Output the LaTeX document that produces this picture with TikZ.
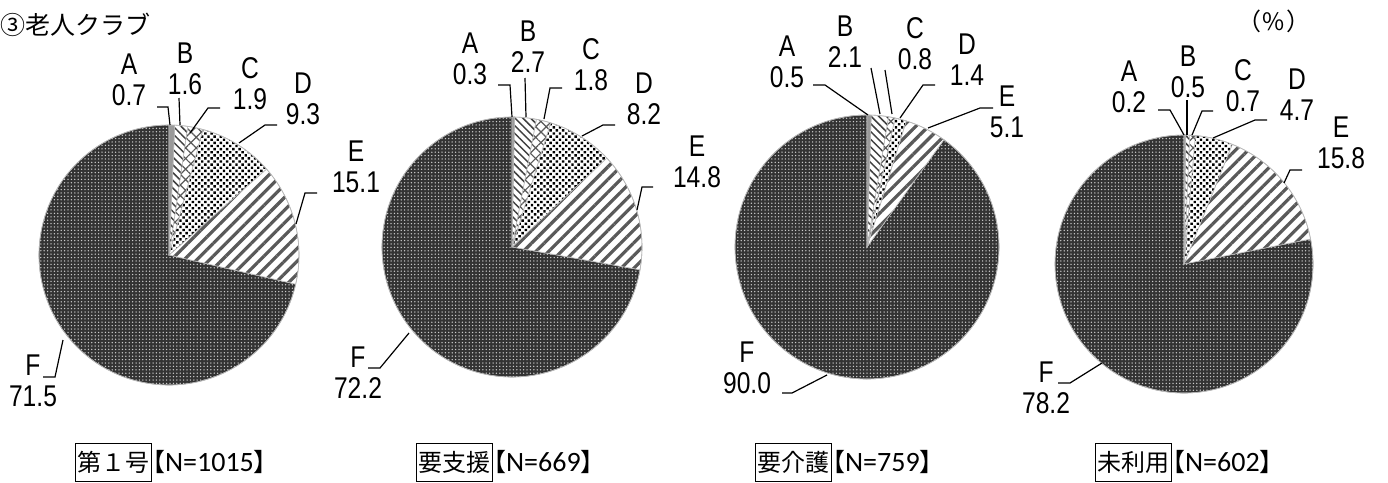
\documentclass[tikz,border=0pt]{standalone}
\usepackage{fontspec}
\usetikzlibrary{patterns.meta}
\newfontfamily\lbl{Liberation Sans}[FakeStretch=0.82]
\newfontfamily\cjk{Noto Sans CJK JP}
\newfontfamily\nfont{Carlito}
\newcommand{\pslice}[6]{%
  \pgfmathsetmacro\pAng{3.6*#4-90}\pgfmathsetmacro\pBng{3.6*#5-90}%
  \filldraw[slice,#6] (#1,#2) -- ++(\pAng:#3) arc[start angle=\pAng, end angle=\pBng, radius=#3] -- cycle;}
\newcommand{\fullpie}[9]{% cx cy r cumA cumB cumC cumD cumE
  \pslice{#1}{#2}{#3}{#8}{100}{sF}%
  \pslice{#1}{#2}{#3}{#7}{#8}{sE}%
  \pslice{#1}{#2}{#3}{#6}{#7}{sD}%
  \pslice{#1}{#2}{#3}{#5}{#6}{sC}%
  \pslice{#1}{#2}{#3}{#4}{#5}{sB}%
  \pslice{#1}{#2}{#3}{0}{#4}{sA}%
  \draw[slice,fill=none] (#1,#2) circle[radius=#3];}
\tikzset{
  slice/.style={draw=black!28, line width=0.6pt},
  sA/.style={fill=black!40},
  sB/.style={preaction={fill=white}, pattern={Lines[angle=-45,distance=5.5pt,line width=1.5pt]}, pattern color=black!75},
  sC/.style={preaction={fill=white}, pattern={Hatch[angle=45,distance=7.5pt,line width=1.2pt]}, pattern color=black!65},
  sD/.style={preaction={fill=white}, pattern={Dots[angle=45,distance=4.4pt,radius=1.7pt]}, pattern color=black},
  sE/.style={preaction={fill=white}, pattern={Lines[angle=45,distance=9pt,line width=3.2pt]}, pattern color=black!65},
  sF/.style={preaction={fill=black!80}, pattern={Dots[distance=3.4pt,radius=0.75pt]}, pattern color=black!20},
  lab/.style={font=\lbl\fontsize{30}{31}\selectfont, align=center, inner sep=0pt},
  lead/.style={draw=black, line width=1.2pt},
  grp/.style={draw=black, line width=0.9pt, font=\cjk\fontsize{24}{24}\selectfont, inner xsep=2pt, inner ysep=0pt, minimum height=38pt, anchor=west},
  nlab/.style={anchor=west, inner sep=0pt, xshift=-12pt, font=\cjk\fontsize{25}{25}\selectfont}
}
\begin{document}
\begin{tikzpicture}[x=1pt,y=-1pt]
\useasboundingbox (0,0) rectangle (1388,482);
\fill[white] (0,0) rectangle (1388,482);
% pies
\fullpie{169}{255}{130}{0.7}{2.3}{4.2}{13.5}{28.6}{}
\fullpie{512}{247}{130}{0.3}{3.0}{4.8}{13.0}{27.8}{}
\fullpie{867}{247}{132}{0.5}{2.6}{3.4}{4.8}{9.9}{}
\fullpie{1184}{264}{129}{0.2}{0.7}{1.4}{6.1}{21.9}{}
% title
\node[anchor=west, inner sep=0pt, font=\cjk\fontsize{25}{25}\selectfont] (title) at (0,25) {③老人クラブ};
\node[inner sep=0pt, font=\cjk\fontsize{24}{24}\selectfont] (pct) at (1274,21) {（\kern1pt\%\kern1pt）};
% pie 1 labels
\node[lab] (a1) at (129,80) {A\\0.7};
\node[lab] (b1) at (185,69) {B\\1.6};
\node[lab] (c1) at (250,84) {C\\1.9};
\node[lab] (d1) at (303,99) {D\\9.3};
\node[lab] (e1) at (356,167) {E\\15.1};
\node[lab] (f1) at (33,381) {F\\71.5};
\coordinate (a1s) at (157,107); \coordinate (a1m) at (168,107); \coordinate (a1e) at (170,125);
\coordinate (b1s) at (179,98); \coordinate (b1e) at (180,125);
\coordinate (c1s) at (220,108); \coordinate (c1m) at (208,108); \coordinate (c1e) at (190,133);
\coordinate (d1s) at (277,125); \coordinate (d1m) at (265,125); \coordinate (d1e) at (239,143);
\coordinate (e1s) at (317,193); \coordinate (e1m) at (305,193); \coordinate (e1e) at (296,224);
\coordinate (f1s) at (43,377); \coordinate (f1m) at (55,377); \coordinate (f1e) at (63,340);
\draw[lead] (a1s) -- (a1m) -- (a1e);
\draw[lead] (b1s) -- (b1e);
\draw[lead] (c1s) -- (c1m) -- (c1e);
\draw[lead] (d1s) -- (d1m) -- (d1e);
\draw[lead] (e1s) -- (e1m) -- (e1e);
\draw[lead] (f1s) -- (f1m) -- (f1e);
% pie 2 labels
\node[lab] (a2) at (470,59) {A\\0.3};
\node[lab] (b2) at (528,47) {B\\2.7};
\node[lab] (c2) at (591,65) {C\\1.8};
\node[lab] (d2) at (644,99) {D\\8.2};
\node[lab] (e2) at (697,162) {E\\14.8};
\node[lab] (f2) at (358,373) {F\\72.2};
\coordinate (a2s) at (498,85); \coordinate (a2m) at (510,85); \coordinate (a2e) at (512,117);
\coordinate (b2s) at (525,78); \coordinate (b2e) at (526,117);
\coordinate (c2s) at (562,88); \coordinate (c2m) at (550,88); \coordinate (c2e) at (544,119);
\coordinate (d2s) at (615,125); \coordinate (d2m) at (603,125); \coordinate (d2e) at (582,136);
\coordinate (e2s) at (653,187); \coordinate (e2m) at (642,187); \coordinate (e2e) at (637,210);
\coordinate (f2s) at (368,368); \coordinate (f2m) at (380,368); \coordinate (f2e) at (409,333);
\draw[lead] (a2s) -- (a2m) -- (a2e);
\draw[lead] (b2s) -- (b2e);
\draw[lead] (c2s) -- (c2m) -- (c2e);
\draw[lead] (d2s) -- (d2m) -- (d2e);
\draw[lead] (e2s) -- (e2m) -- (e2e);
\draw[lead] (f2s) -- (f2m) -- (f2e);
% pie 3 labels
\node[lab] (a3) at (787,62) {A\\0.5};
\node[lab] (b3) at (845,42) {B\\2.1};
\node[lab] (c3) at (915,44) {C\\0.8};
\node[lab] (d3) at (967,60) {D\\1.4};
\node[lab] (e3) at (1007,112) {E\\5.1};
\node[lab] (f3) at (747,368) {F\\90.0};
\coordinate (a3s) at (813,85); \coordinate (a3m) at (825,85); \coordinate (a3e) at (868,115);
\coordinate (b3s) at (871,68); \coordinate (b3e) at (880,114);
\coordinate (c3s) at (885,70); \coordinate (c3e) at (892,114);
\coordinate (d3s) at (935,85); \coordinate (d3m) at (923,85); \coordinate (d3e) at (900,118);
\coordinate (e3s) at (993,108); \coordinate (e3m) at (980,108); \coordinate (e3e) at (928,128);
\coordinate (f3s) at (782,393); \coordinate (f3m) at (792,393); \coordinate (f3e) at (827,375);
\draw[lead] (a3s) -- (a3m) -- (a3e);
\draw[lead] (b3s) -- (b3e);
\draw[lead] (c3s) -- (c3e);
\draw[lead] (d3s) -- (d3m) -- (d3e);
\draw[lead] (e3s) -- (e3m) -- (e3e);
\draw[lead] (f3s) -- (f3m) -- (f3e);
% pie 4 labels
\node[lab] (a4) at (1129,87) {A\\0.2};
\node[lab] (b4) at (1188,72) {B\\0.5};
\node[lab] (c4) at (1243,86) {C\\0.7};
\node[lab] (d4) at (1297,95) {D\\4.7};
\node[lab] (e4) at (1341,143) {E\\15.8};
\node[lab] (f4) at (1046,388) {F\\78.2};
\coordinate (a4s) at (1158,110); \coordinate (a4m) at (1170,110); \coordinate (a4e) at (1184,135);
\coordinate (b4s) at (1187,100); \coordinate (b4e) at (1187,135);
\coordinate (c4s) at (1213,111); \coordinate (c4m) at (1202,111); \coordinate (c4e) at (1192,135);
\coordinate (d4s) at (1267,120); \coordinate (d4m) at (1255,120); \coordinate (d4e) at (1213,138);
\coordinate (e4s) at (1302,170); \coordinate (e4m) at (1290,170); \coordinate (e4e) at (1284,183);
\coordinate (f4s) at (1058,383); \coordinate (f4m) at (1070,383); \coordinate (f4e) at (1102,363);
\draw[lead] (a4s) -- (a4m) -- (a4e);
\draw[lead] (b4s) -- (b4e);
\draw[lead] (c4s) -- (c4m) -- (c4e);
\draw[lead] (d4s) -- (d4m) -- (d4e);
\draw[lead] (e4s) -- (e4m) -- (e4e);
\draw[lead] (f4s) -- (f4m) -- (f4e);
% group captions
\node[grp] (g1) at (75,462) {第１号};
\node[nlab] (n1) at (g1.east) {【{\nfont\fontsize{28}{28}\selectfont N=1015}】};
\node[grp] (g2) at (416,462) {要支援};
\node[nlab] (n2) at (g2.east) {【{\nfont\fontsize{28}{28}\selectfont N=669}】};
\node[grp] (g3) at (755,462) {要介護};
\node[nlab] (n3) at (g3.east) {【{\nfont\fontsize{28}{28}\selectfont N=759}】};
\node[grp] (g4) at (1095,462) {未利用};
\node[nlab] (n4) at (g4.east) {【{\nfont\fontsize{28}{28}\selectfont N=602}】};
\end{tikzpicture}
\end{document}
